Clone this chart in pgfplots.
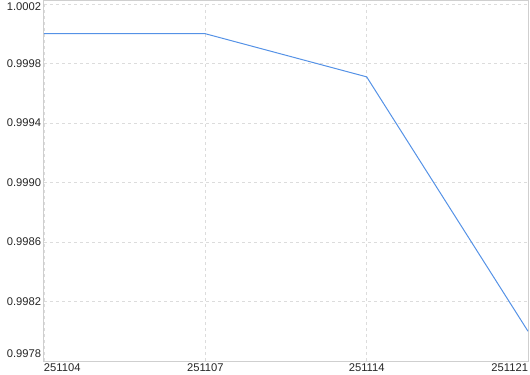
\documentclass[border=0pt]{standalone}
\usepackage{pgfplots}
\pgfplotsset{compat=1.18}
\usepackage{fontspec}
\setmainfont{Liberation Sans}
\definecolor{lineblue}{HTML}{5592E6}
\definecolor{gridgray}{HTML}{DCDCDC}
\definecolor{axgray}{HTML}{CFCFCF}
\begin{document}
\begin{tikzpicture}
\path[use as bounding box] (-33pt,-9.75pt) rectangle (364.5pt,270.75pt);
\begin{axis}[
  at={(0,0)}, anchor=origin,
  scale only axis,
  width=363pt, height=270pt,
  xmin=0, xmax=3,
  ymin=0.9978, ymax=1.00022,
  xtick={0,1,2,3},
  xticklabels={\makebox[0pt][l]{251104},251107,251114,\makebox[0pt][r]{251121}},
  ytick={0.9978,0.9982,0.9986,0.9990,0.9994,0.9998,1.0002},
  yticklabels={\raisebox{5.5pt}[6pt][0pt]{0.9978},0.9982,0.9986,0.9990,0.9994,0.9998,\raisebox{-2pt}[6pt][0pt]{1.0002}},
  axis line style={axgray, line width=0.75pt},
  major tick length=0pt,
  grid=major,
  grid style={gridgray, dash pattern=on 2.5pt off 2pt, line width=0.6pt},
  tick label style={font=\fontsize{8.4}{9}\selectfont, text=black!85},
  xticklabel style={anchor=north, inner sep=1pt, yshift=-0.5pt},
  yticklabel style={anchor=east, inner sep=2pt},
  clip=false,
]
\addplot[lineblue, line width=0.75pt] coordinates {(0,1.0000) (1,1.0000) (2,0.99971) (3,0.99800)};
\end{axis}
\end{tikzpicture}
\end{document}
